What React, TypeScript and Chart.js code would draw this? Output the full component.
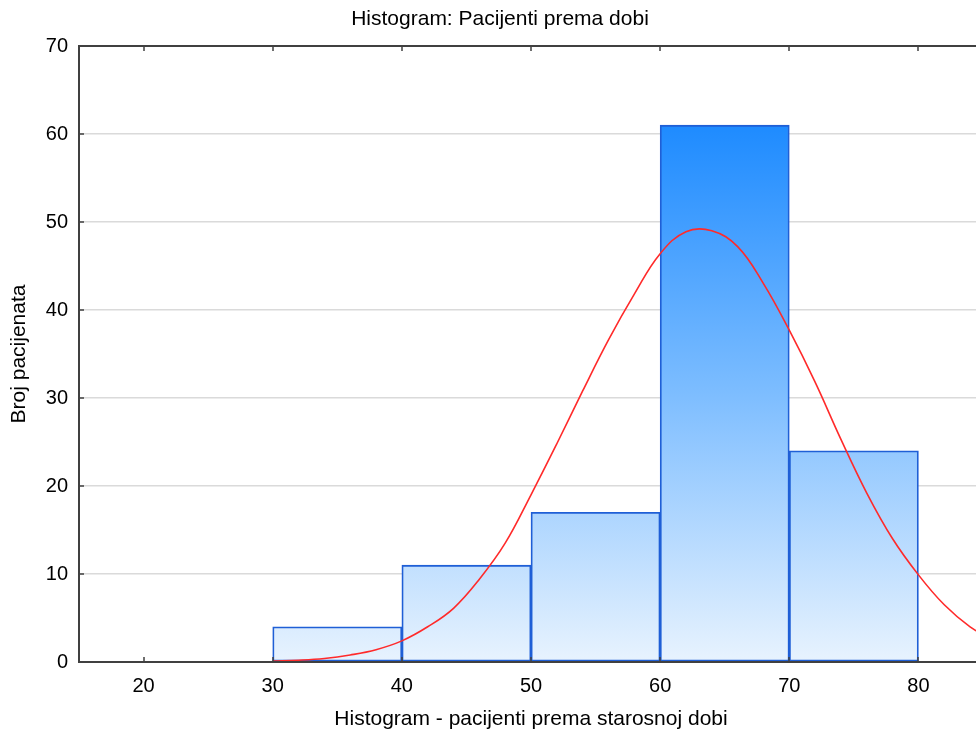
import React, { useEffect, useRef } from "react";
import { Chart, registerables } from "chart.js";

Chart.register(...registerables);

const titleText = "Histogram: Pacijenti prema dobi";
const xTitle = "Histogram - pacijenti prema starosnoj dobi";
const yTitle = "Broj pacijenata";

const binCenters = [35, 45, 55, 65, 75];
const binCounts = [4, 11, 17, 61, 24];

const curveX = [30, 32, 34, 36, 38, 40, 42, 44, 46, 48, 50, 52, 54, 56, 58, 60, 62, 64, 66, 68, 70, 72, 74, 76, 78, 80, 82, 84, 86];
const curveY = [0.1, 0.2, 0.4, 0.8, 1.4, 2.4, 4.0, 6.1, 9.4, 13.5, 19.0, 24.8, 30.8, 36.6, 41.8, 46.4, 48.9, 49.0, 47.2, 43.0, 37.7, 31.8, 25.3, 19.2, 14.0, 9.9, 6.5, 4.0, 2.3];

const xTicks = [20, 30, 40, 50, 60, 70, 80];
const yTicks = [0, 10, 20, 30, 40, 50, 60, 70];

const FONT = '"Liberation Sans", Arial, sans-serif';

export default function App() {
  const ref = useRef<HTMLCanvasElement>(null);

  useEffect(() => {
    const canvas = ref.current!;
    const framePlugin = {
      id: "frame",
      afterDraw(chart: any) {
        const { ctx, chartArea: a, scales } = chart;
        ctx.save();
        ctx.strokeStyle = "#404040";
        ctx.lineWidth = 2;
        ctx.strokeRect(a.left, a.top, a.right - a.left, a.bottom - a.top);
        ctx.lineWidth = 1.5;
        ctx.beginPath();
        for (const v of xTicks) {
          const px = Math.round(scales.x.getPixelForValue(v));
          ctx.moveTo(px, a.bottom);
          ctx.lineTo(px, a.bottom - 5);
          ctx.moveTo(px, a.top);
          ctx.lineTo(px, a.top + 5);
        }
        for (const v of yTicks) {
          const py = Math.round(scales.y.getPixelForValue(v));
          ctx.moveTo(a.left, py);
          ctx.lineTo(a.left + 5, py);
        }
        ctx.stroke();
        ctx.fillStyle = "#000";
        ctx.font = `21px ${FONT}`;
        ctx.textAlign = "center";
        ctx.textBaseline = "middle";
        ctx.fillText(titleText, chart.width / 2, 19);
        ctx.restore();
      },
    };

    const maxCount = Math.max(...binCounts);
    const gradientFn = (c: any) => {
      const chart = c.chart;
      const { chartArea, scales } = chart;
      if (!chartArea) return "#8fc4ff";
      const top = scales.y.getPixelForValue(maxCount);
      const bottom = scales.y.getPixelForValue(0);
      const g = chart.ctx.createLinearGradient(0, top, 0, bottom);
      g.addColorStop(0, "#1E8BFF");
      g.addColorStop(0.5, "#7DBDFF");
      g.addColorStop(1, "#E8F3FE");
      return g;
    };

    const chart = new Chart(canvas, {
      type: "bar",
      data: {
        datasets: [
          {
            type: "line",
            data: curveX.map((x, i) => ({ x, y: curveY[i] })),
            borderColor: "#FF2A2A",
            borderWidth: 1.6,
            pointRadius: 0,
            tension: 0.4,
            fill: false,
            order: 0,
          } as any,
          {
            type: "bar",
            data: binCenters.map((x, i) => ({ x, y: binCounts[i] })),
            backgroundColor: gradientFn,
            borderColor: "#1F5FD6",
            borderWidth: 1.8,
            borderSkipped: false,
            barPercentage: 1,
            categoryPercentage: 1,
            order: 1,
          } as any,
        ],
      },
      options: {
        responsive: false,
        animation: false,
        devicePixelRatio: 1,
        layout: { padding: { top: 46, right: 17, left: 0, bottom: 0 } },
        plugins: {
          legend: { display: false },
          tooltip: { enabled: false },
          title: { display: false },
        },
        scales: {
          x: {
            type: "linear",
            min: 15,
            max: 85,
            offset: false,
            afterBuildTicks: (s: any) => {
              s.ticks = xTicks.map((v) => ({ value: v }));
            },
            afterFit: (s: any) => {
              s.height = 74;
            },
            grid: { display: false, drawTicks: false },
            border: { display: false },
            ticks: {
              color: "#000",
              font: { family: FONT, size: 20 },
              padding: 12,
              maxRotation: 0,
              autoSkip: false,
            },
            title: {
              display: true,
              text: xTitle,
              color: "#000",
              font: { family: FONT, size: 21 },
              padding: { top: 0, bottom: 4 },
            },
          },
          y: {
            type: "linear",
            min: 0,
            max: 70,
            afterBuildTicks: (s: any) => {
              s.ticks = yTicks.map((v) => ({ value: v }));
            },
            afterFit: (s: any) => {
              s.width = 79;
            },
            grid: {
              color: (c: any) =>
                c.tick && (c.tick.value === 0 || c.tick.value === 70) ? "rgba(0,0,0,0)" : "#DADADA",
              lineWidth: 1.5,
              drawTicks: false,
            },
            border: { display: false },
            ticks: {
              color: "#000",
              font: { family: FONT, size: 20 },
              padding: 11,
            },
            title: {
              display: true,
              text: yTitle,
              color: "#000",
              font: { family: FONT, size: 21 },
              padding: { top: 7, bottom: 0 },
            },
          },
        },
      } as any,
      plugins: [framePlugin],
    });

    return () => chart.destroy();
  }, []);

  return (
    <div
      style={{
        position: "fixed",
        left: 0,
        top: 0,
        width: 976,
        height: 736,
        overflow: "hidden",
        background: "#fff",
      }}
    >
      <canvas ref={ref} width={1000} height={736} style={{ display: "block" }} />
    </div>
  );
}
